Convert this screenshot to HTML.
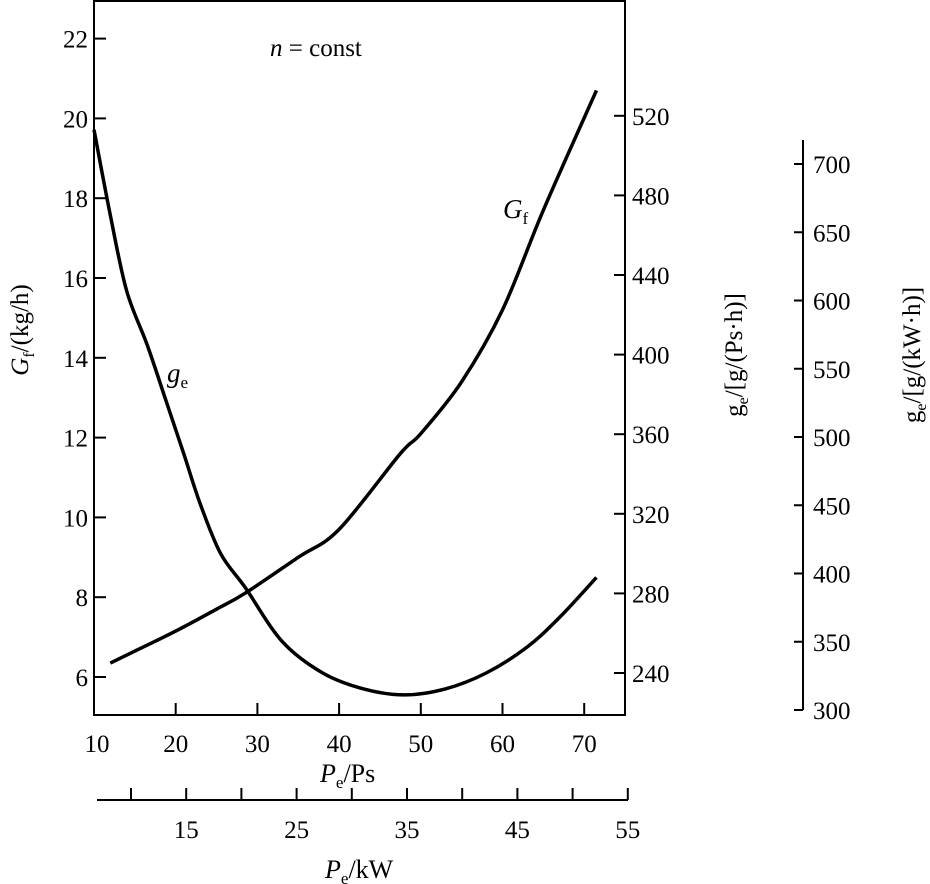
<!DOCTYPE html>
<html><head><meta charset="utf-8"><style>
body{margin:0;background:#fff}
svg{display:block;font-family:"Liberation Serif",serif}
text{fill:#000}
</style></head><body>
<svg id="c" width="930" height="884" viewBox="0 0 930 884">
<g id="axes"></g><g id="series"></g>
<text x="270" y="56" font-size="25"><tspan font-style="italic">n</tspan> = const</text>
<text x="503" y="218" font-size="27"><tspan font-style="italic">G</tspan><tspan font-size="17" dy="6">f</tspan></text>
<text x="167" y="382" font-size="27"><tspan font-style="italic">g</tspan><tspan font-size="17" dy="6">e</tspan></text>
<text x="320" y="782" font-size="26"><tspan font-style="italic">P</tspan><tspan font-size="17" dy="6">e</tspan><tspan dy="-6">/Ps</tspan></text>
<text x="325" y="878" font-size="26"><tspan font-style="italic">P</tspan><tspan font-size="17" dy="6">e</tspan><tspan dy="-6">/kW</tspan></text>
<text transform="translate(28,330) rotate(-90)" text-anchor="middle" font-size="25"><tspan font-style="italic">G</tspan><tspan font-size="16" dy="6">f</tspan><tspan dy="-6">/(kg/h)</tspan></text>
<text transform="translate(742,355) rotate(-90)" text-anchor="middle" font-size="25"><tspan>g</tspan><tspan font-size="16" dy="6">e</tspan><tspan dy="-6">/[g/(Ps·h)]</tspan></text>
<text transform="translate(920,355) rotate(-90)" text-anchor="middle" font-size="25"><tspan>g</tspan><tspan font-size="16" dy="6">e</tspan><tspan dy="-6">/[g/(kW·h)]</tspan></text>
</svg>
<script>
const psTicks=[10,20,30,40,50,60,70];
const kwTicks=[10,15,20,25,30,35,40,45,50,55];
const kwLabels=[15,25,35,45,55];
const gfTicks=[6,8,10,12,14,16,18,20,22];
const gePsTicks=[240,280,320,360,400,440,480,520];
const geKwTicks=[300,350,400,450,500,550,600,650,700];
const gfPs=[12,15,20,25,28.5,35,40,47.5,50,55,60,65,71.5];
const gfVals=[6.35,6.65,7.15,7.7,8.1,9.0,9.7,11.6,12.1,13.4,15.2,17.7,20.7];
const gePs=[10,12,14,16.5,18.8,21,23,25.5,28.5,33,38,43,48,53,58,63,67,71.5];
const geVals=[513,470,432,405,377,350,325,300,283,256,240,232,229,232,240,253,268,288];

const NS='http://www.w3.org/2000/svg';
const X=v=>94+(v-10)*8.17;
const XK=v=>131+(v-10)*11.04;
const YG=v=>677-(v-6)*39.9;
const YP=v=>673-(v-240)*1.99;
const YK=v=>710-(v-300)*1.365;
const ax=document.getElementById('axes'),se=document.getElementById('series');
function el(p,t,a){const e=document.createElementNS(NS,t);for(const k in a)e.setAttribute(k,a[k]);p.appendChild(e);return e;}
function line(x1,y1,x2,y2){return el(ax,'line',{x1,y1,x2,y2,stroke:'#000','stroke-width':2});}
function txt(x,y,s,anchor){const t=el(ax,'text',{x,y,'font-size':25,'text-anchor':anchor});t.textContent=s;return t;}

const frame=el(ax,'rect',{x:94,y:1,width:531,height:714,fill:'none',stroke:'#000','stroke-width':2});


psTicks.forEach(v=>{if(v>10){const l=line(X(v),715,X(v),703);}
 const t=txt(X(v)+(v==10?3:0),752,String(v),'middle');});
gfTicks.forEach(v=>{const l=line(94,YG(v),106,YG(v));
 const t=txt(88,YG(v)+9,String(v),'end');});
gePsTicks.forEach(v=>{const l=line(625,YP(v),614,YP(v));
 const t=txt(632,YP(v)+9,String(v),'start');});
const kl=line(97,800,628,800);
kwTicks.forEach(v=>{const l=line(XK(v),800,XK(v),788);});
kwLabels.forEach(v=>{const t=txt(XK(v),838,String(v),'middle');});
const yl=line(803,140,803,YK(300));
geKwTicks.forEach(v=>{const l=line(803,YK(v),794,YK(v));
 const t=txt(813,YK(v)+9,String(v),'start');});

function smooth(pts){let d='M'+pts[0][0]+','+pts[0][1];
 for(let i=0;i<pts.length-1;i++){const p0=pts[i-1]||pts[i],p1=pts[i],p2=pts[i+1],p3=pts[i+2]||p2;
  d+=' C'+(p1[0]+(p2[0]-p0[0])/6)+','+(p1[1]+(p2[1]-p0[1])/6)+' '+(p2[0]-(p3[0]-p1[0])/6)+','+(p2[1]-(p3[1]-p1[1])/6)+' '+p2[0]+','+p2[1];}
 return d;}
const gf=el(se,'path',{d:smooth(gfPs.map((p,i)=>[X(p),YG(gfVals[i])])),fill:'none',stroke:'#000','stroke-width':3.5});


const ge=el(se,'path',{d:smooth(gePs.map((p,i)=>[X(p),YP(geVals[i])])),fill:'none',stroke:'#000','stroke-width':3.5});


</script>
</body></html>
